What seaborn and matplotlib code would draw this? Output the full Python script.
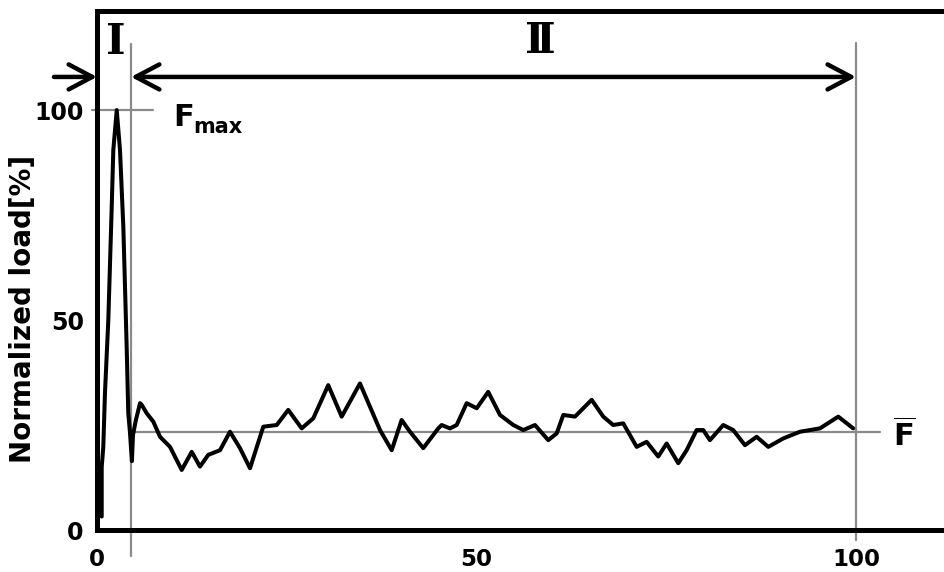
import matplotlib
matplotlib.use("Agg")
import matplotlib.pyplot as plt
import seaborn as sns
import pandas as pd

# ---- data ----
load_x = [0.62, 0.62, 0.83, 1.05, 1.49, 1.94, 2.15, 2.60, 3.03, 3.47, 3.91, 4.12,
          4.35, 4.50, 4.60, 4.74, 5.10, 5.67, 5.89, 6.55, 7.42, 8.30, 9.62, 11.16,
          12.48, 13.57, 14.66, 16.21, 17.52, 18.84, 20.16, 21.91, 23.68, 25.20,
          26.97, 28.50, 30.47, 32.24, 34.65, 37.29, 38.83, 40.14, 41.24, 42.99,
          44.97, 45.41, 46.51, 47.39, 48.71, 50.03, 51.55, 53.10, 54.85, 56.17,
          57.71, 59.46, 60.57, 61.44, 62.98, 65.18, 66.71, 68.02, 69.34, 71.11,
          72.42, 73.95, 75.06, 76.59, 77.69, 79.01, 79.88, 80.76, 82.52, 83.83,
          85.38, 86.92, 88.45, 90.42, 92.62, 95.26, 97.67, 99.64]
load_y = [3.2, 15.0, 19.8, 32.6, 50.0, 77.0, 90.5, 100.0, 90.5, 72.2, 43.6, 27.9,
          23.1, 19.0, 16.4, 22.6, 26.0, 30.2, 29.8, 27.8, 25.8, 22.2, 19.8, 14.3,
          18.6, 15.1, 17.9, 19.0, 23.4, 19.5, 14.7, 24.6, 25.0, 28.6,
          24.2, 26.6, 34.5, 27.0, 34.9, 23.8, 19.0, 26.2, 23.4, 19.5,
          24.2, 25.0, 24.2, 25.0, 30.2, 29.0, 32.9, 27.4, 25.0, 23.8,
          25.0, 21.4, 23.0, 27.4, 27.0, 31.0, 27.0, 25.0, 25.4, 19.8,
          21.0, 17.5, 20.6, 15.9, 19.0, 23.8, 23.8, 21.4, 25.0, 23.8,
          20.2, 22.2, 19.8, 21.8, 23.4, 24.2, 27.0, 24.2]

x_ticks = [0, 50, 100]
y_ticks = [0, 50, 100]
f_max = 100.0
f_mean = 23.4
stage_boundary = 4.48
stage_end = 100.0
arrow_level = 107.9

df = pd.DataFrame({"x": load_x, "y": load_y})

sns.set_theme(style="white")
plt.rcParams["font.family"] = ["DejaVu Sans"]
plt.rcParams["mathtext.fontset"] = "dejavusans"
plt.rcParams["text.color"] = "black"
plt.rcParams["axes.labelcolor"] = "black"
plt.rcParams["xtick.labelcolor"] = "black"
plt.rcParams["ytick.labelcolor"] = "black"

fig = plt.figure(figsize=(9.44, 5.72), dpi=100)
ax = fig.add_axes([97 / 944, 42 / 572, 850 / 944, 519 / 572])

sns.lineplot(data=df, x="x", y="y", ax=ax, color="black", linewidth=2.9,
             estimator=None, sort=False)

ax.set_xlim(0, 112)
ax.set_ylim(0, 123.6)

for side in ["left", "bottom", "top"]:
    ax.spines[side].set_color("black")
    ax.spines[side].set_linewidth(3.6)
ax.spines["right"].set_visible(False)

gray = "#8a8a8a"
ax.set_xticks(x_ticks)
ax.set_yticks(y_ticks)
ax.set_xticklabels([str(v) for v in x_ticks], fontsize=16.5, fontweight="bold")
ax.set_yticklabels([str(v) for v in y_ticks], fontsize=17, fontweight="bold")
ax.tick_params(axis="x", direction="inout", length=21, width=1.6, color=gray,
               pad=2.5, labelcolor="black")
ax.tick_params(axis="y", direction="inout", length=11, width=1.6, color=gray,
               pad=4, labelcolor="black")
xt = ax.xaxis.get_major_ticks()
xt[0].tick1line.set_visible(False)
xt[2].tick1line.set_visible(False)
yt = ax.yaxis.get_major_ticks()
yt[0].tick1line.set_visible(False)

ax.set_xlabel("")
ax.set_ylabel("Normalized load[%]", fontsize=20, fontweight="bold", color="black")
ax.yaxis.set_label_coords(-0.071, 0.425)

# reference lines
ax.plot([stage_boundary, stage_boundary], [-6.2, 115.7], color=gray, lw=1.6,
        clip_on=False, zorder=1)
ax.plot([stage_end, stage_end], [-2.4, 116.0], color=gray, lw=1.6,
        clip_on=False, zorder=1)
ax.plot([-0.66, 7.38], [f_max, f_max], color=gray, lw=1.6, clip_on=False, zorder=1)
ax.plot([stage_boundary, 103.2], [f_mean, f_mean], color=gray, lw=1.6,
        clip_on=False, zorder=1)

# arrows
ax.annotate("", xy=(0, arrow_level), xytext=(-5.67, arrow_level),
            arrowprops=dict(arrowstyle="->,head_length=0.85,head_width=0.45",
                            lw=3.2, color="black",
                            shrinkA=0, shrinkB=0, mutation_scale=20),
            annotation_clip=False)
ax.annotate("", xy=(stage_end, arrow_level), xytext=(stage_boundary, arrow_level),
            arrowprops=dict(arrowstyle="<->,head_length=0.85,head_width=0.45",
                            lw=3.2, color="black",
                            shrinkA=0, shrinkB=0, mutation_scale=20),
            annotation_clip=False)

# labels
ax.text(2.5, 116.2, "Ⅰ", fontsize=30, fontweight="bold", family=["DejaVu Serif"],
        ha="center", va="center", color="black")
ax.text(58.4, 116.4, "Ⅱ", fontsize=30, fontweight="bold", family=["DejaVu Serif"],
        ha="center", va="center", color="black")
ax.text(10.0, 96.2, "F", fontsize=22, fontweight="bold", ha="left", va="baseline",
        color="black")
ax.text(12.65, 94.5, "max", fontsize=15, fontweight="bold", ha="left", va="baseline",
        color="black")
ax.text(104.9, 19.8, r"$\overline{\mathbf{F}}$", fontsize=22, ha="left",
        va="baseline", clip_on=False, color="black")

fig.savefig("out.png", dpi=100)
